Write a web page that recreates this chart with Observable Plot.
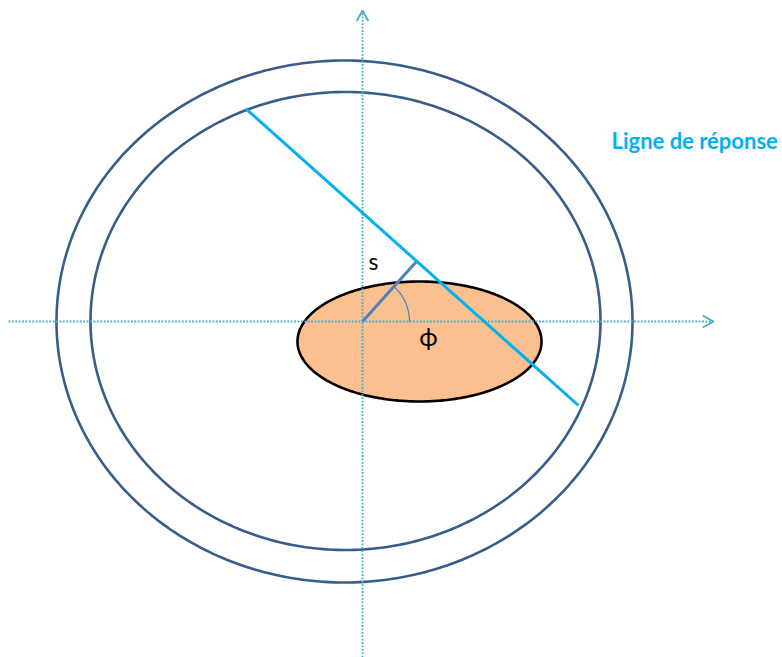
<!DOCTYPE html>
<html><head><meta charset="utf-8">
<script src="https://cdn.jsdelivr.net/npm/d3@7"></script>
<script src="https://cdn.jsdelivr.net/npm/@observablehq/plot@0.6"></script>
<style>body{margin:0;background:#fff}#chart svg{display:block}</style>
</head><body><div id="chart"></div>
<script>
// Geometry (data units, origin at the axes crossing, y up)
const ringNames = ["outer", "inner"];
const ringCx = [-18, -17];
const ringCy = [0, 0.5];
const ringRx = [288, 255];
const ringRy = [261, 229];

const objectCx = 57, objectCy = -20, objectRx = 122, objectRy = 60;

const axisNames = ["x", "y"];
const axisX1 = [-354, 0];
const axisY1 = [0, -336];
const axisX2 = [351, 0];
const axisY2 = [0, 311];

const responseX = [-117, 216];
const responseY = [213, -84];

const sValue = 81;      // distance of the response line from the origin
const phiDeg = 48;      // angle of the normal
const arcRadius = 47;

const labelText = ["s", "ϕ"];
const labelX = [11, 66];
const labelY = [59, -16];
const titleText = "Ligne de réponse";

// build tables
function ellipse(name, cx, cy, rx, ry, n = 360) {
  return d3.range(n + 1).map(i => {
    const t = 2 * Math.PI * i / n;
    return {name, x: cx + rx * Math.cos(t), y: cy + ry * Math.sin(t)};
  });
}
const rings = ringNames.flatMap((nm, i) => ellipse(nm, ringCx[i], ringCy[i], ringRx[i], ringRy[i]));
const objectPts = ellipse("objet", objectCx, objectCy, objectRx, objectRy);
const axes = axisNames.map((n, i) => ({n, x1: axisX1[i], y1: axisY1[i], x2: axisX2[i], y2: axisY2[i]}));
const heads = axes.flatMap(a => {
  const dx = a.x2 - a.x1, dy = a.y2 - a.y1, L = Math.hypot(dx, dy);
  const ux = dx / L, uy = dy / L, nx = -uy, ny = ux;
  const len = 10, half = 5.5;
  return [
    {n: a.n, x: a.x2 - len * ux + half * nx, y: a.y2 - len * uy + half * ny},
    {n: a.n, x: a.x2, y: a.y2},
    {n: a.n, x: a.x2 - len * ux - half * nx, y: a.y2 - len * uy - half * ny}
  ];
});
const phi = phiDeg * Math.PI / 180;
const segment = [{x1: 0, y1: 0, x2: sValue * Math.cos(phi), y2: sValue * Math.sin(phi)}];
const arc = d3.range(0, 41).map(i => {
  const t = phi * i / 40;
  return {x: arcRadius * Math.cos(t), y: arcRadius * Math.sin(t)};
});
const response = [{x1: responseX[0], y1: responseY[0], x2: responseX[1], y2: responseY[1]}];
const labels = labelText.map((t, i) => ({t, x: labelX[i], y: labelY[i]}));

const chart = Plot.plot({
  width: 782,
  height: 657,
  margin: 0,
  x: {domain: [-362, 420], range: [0, 782], axis: null},
  y: {domain: [-336, 321], range: [657, 0], axis: null},
  marks: [
    Plot.line(rings, {x: "x", y: "y", z: "name", stroke: "#385D8A", strokeWidth: 2.6, curve: "linear"}),
    Plot.line(objectPts, {x: "x", y: "y", fill: "#FAC090", stroke: "#000", strokeWidth: 2.6}),
    Plot.link(axes, {x1: "x1", y1: "y1", x2: "x2", y2: "y2", stroke: "#4BACC6", strokeWidth: 1.8, strokeDasharray: "1.8 1.6"}),
    Plot.line(heads, {x: "x", y: "y", z: "n", stroke: "#4BACC6", strokeWidth: 1.8, strokeLinejoin: "miter"}),
    Plot.line(arc, {x: "x", y: "y", stroke: "#4F81BD", strokeWidth: 1.2}),
    Plot.link(segment, {x1: "x1", y1: "y1", x2: "x2", y2: "y2", stroke: "#4F81BD", strokeWidth: 3}),
    Plot.link(response, {x1: "x1", y1: "y1", x2: "x2", y2: "y2", stroke: "#00B0F0", strokeWidth: 3}),
    Plot.text(labels, {x: "x", y: "y", text: "t", fontSize: (d) => d.t === "s" ? 23 : 25, fill: "#000", fontFamily: "Lato"}),
    Plot.text([titleText], {x: 249, y: 180, text: d => d, textAnchor: "start", fill: "#00B0F0", fontSize: 22, fontWeight: "bold", fontFamily: "Lato"})
  ]
});
document.getElementById("chart").append(chart);
</script>
</body></html>
